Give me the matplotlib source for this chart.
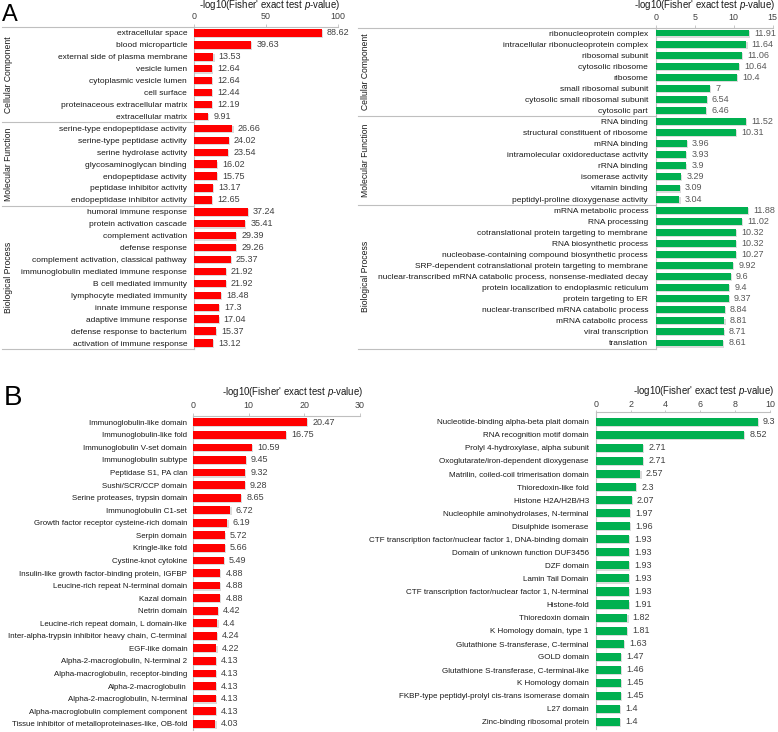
import matplotlib
matplotlib.use("Agg")
import matplotlib.pyplot as plt
import matplotlib.patheffects as pe
from matplotlib.transforms import blended_transform_factory

plt.rcParams['font.family'] = ['Liberation Sans', 'DejaVu Sans']
plt.rcParams['mathtext.fontset'] = 'custom'
plt.rcParams['mathtext.rm'] = 'Liberation Sans'
plt.rcParams['mathtext.it'] = 'Liberation Sans:italic'

# ---- data ----
# Panel A, left (red)
a_left_groups = ['Cellular Component', 'Molecular Function', 'Biological Process']
a_left_sizes = [8, 7, 12]
a_left_terms = [
    'extracellular space', 'blood microparticle', 'external side of plasma membrane',
    'vesicle lumen', 'cytoplasmic vesicle lumen', 'cell surface',
    'proteinaceous extracellular matrix', 'extracellular matrix',
    'serine-type endopeptidase activity', 'serine-type peptidase activity',
    'serine hydrolase activity', 'glycosaminoglycan binding', 'endopeptidase activity',
    'peptidase inhibitor activity', 'endopeptidase inhibitor activity',
    'humoral immune response', 'protein activation cascade', 'complement activation',
    'defense response', 'complement activation, classical pathway',
    'immunoglobulin mediated immune response', 'B cell mediated immunity',
    'lymphocyte mediated immunity', 'innate immune response', 'adaptive immune response',
    'defense response to bacterium', 'activation of immune response',
]
a_left_values = [88.62, 39.63, 13.53, 12.64, 12.64, 12.44, 12.19, 9.91,
                 26.66, 24.02, 23.54, 16.02, 15.75, 13.17, 12.65,
                 37.24, 35.41, 29.39, 29.26, 25.37, 21.92, 21.92, 18.48, 17.3, 17.04, 15.37, 13.12]

# Panel A, right (green)
a_right_groups = ['Cellular Component', 'Molecular Function', 'Biological Process']
a_right_sizes = [8, 8, 13]
a_right_terms = [
    'ribonucleoprotein complex', 'intracellular ribonucleoprotein complex', 'ribosomal subunit',
    'cytosolic ribosome', 'ribosome', 'small ribosomal subunit',
    'cytosolic small ribosomal subunit', 'cytosolic part',
    'RNA binding', 'structural constituent of ribosome', 'mRNA binding',
    'intramolecular oxidoreductase activity', 'rRNA binding', 'isomerase activity',
    'vitamin binding', 'peptidyl-proline dioxygenase activity',
    'mRNA metabolic process', 'RNA processing', 'cotranslational protein targeting to membrane',
    'RNA biosynthetic process', 'nucleobase-containing compound biosynthetic process',
    'SRP-dependent cotranslational protein targeting to membrane',
    'nuclear-transcribed mRNA catabolic process, nonsense-mediated decay',
    'protein localization to endoplasmic reticulum', 'protein targeting to ER',
    'nuclear-transcribed mRNA catabolic process', 'mRNA catabolic process',
    'viral transcription', 'translation',
]
a_right_values = [11.91, 11.64, 11.06, 10.64, 10.4, 7, 6.54, 6.46,
                  11.52, 10.31, 3.96, 3.93, 3.9, 3.29, 3.09, 3.04,
                  11.88, 11.02, 10.32, 10.32, 10.27, 9.92, 9.6, 9.4, 9.37, 8.84, 8.81, 8.71, 8.61]

# Panel B, left (red)
b_left_terms = [
    'Immunoglobulin-like domain', 'Immunoglobulin-like fold', 'Immunoglobulin V-set domain',
    'Immunoglobulin subtype', 'Peptidase S1, PA clan', 'Sushi/SCR/CCP domain',
    'Serine proteases, trypsin domain', 'Immunoglobulin C1-set',
    'Growth factor receptor cysteine-rich domain', 'Serpin domain', 'Kringle-like fold',
    'Cystine-knot cytokine', 'Insulin-like growth factor-binding protein, IGFBP',
    'Leucine-rich repeat N-terminal domain', 'Kazal domain', 'Netrin domain',
    'Leucine-rich repeat domain, L domain-like',
    'Inter-alpha-trypsin inhibitor heavy chain, C-terminal', 'EGF-like domain',
    'Alpha-2-macroglobulin, N-terminal 2', 'Alpha-macroglobulin, receptor-binding',
    'Alpha-2-macroglobulin', 'Alpha-2-macroglobulin, N-terminal',
    'Alpha-macroglobulin complement component',
    'Tissue inhibitor of metalloproteinases-like, OB-fold',
]
b_left_values = [20.47, 16.75, 10.59, 9.45, 9.32, 9.28, 8.65, 6.72, 6.19, 5.72, 5.66, 5.49,
                 4.88, 4.88, 4.88, 4.42, 4.4, 4.24, 4.22, 4.13, 4.13, 4.13, 4.13, 4.13, 4.03]

# Panel B, right (green)
b_right_terms = [
    'Nucleotide-binding alpha-beta plait domain', 'RNA recognition motif domain',
    'Prolyl 4-hydroxylase, alpha subunit', 'Oxoglutarate/iron-dependent dioxygenase',
    'Matrilin, coiled-coil trimerisation domain', 'Thioredoxin-like fold',
    'Histone H2A/H2B/H3', 'Nucleophile aminohydrolases, N-terminal', 'Disulphide isomerase',
    'CTF transcription factor/nuclear factor 1, DNA-binding domain',
    'Domain of unknown function DUF3456', 'DZF domain', 'Lamin Tail Domain',
    'CTF transcription factor/nuclear factor 1, N-terminal', 'Histone-fold',
    'Thioredoxin domain', 'K Homology domain, type 1', 'Glutathione S-transferase, C-terminal',
    'GOLD domain', 'Glutathione S-transferase, C-terminal-like', 'K Homology domain',
    'FKBP-type peptidyl-prolyl cis-trans isomerase domain', 'L27 domain',
    'Zinc-binding ribosomal protein',
]
b_right_values = [9.3, 8.52, 2.71, 2.71, 2.57, 2.3, 2.07, 1.97, 1.96, 1.93, 1.93, 1.93, 1.93,
                  1.93, 1.91, 1.82, 1.81, 1.63, 1.47, 1.46, 1.45, 1.45, 1.4, 1.4]

RED = '#FF0000'
GREEN = '#00B050'
GRID = '#BFBFBF'
TITLE = r"-log10(Fisher' exact test $\it{p}$-value)"

W, H = 778, 732
fig = plt.figure(figsize=(W / 100, H / 100), dpi=100)


def px_axes(x0, y0, x1, y1):
    return fig.add_axes([x0 / W, 1 - y1 / H, (x1 - x0) / W, (y1 - y0) / H])


def draw_panel(box, terms, values, color, xmax, ticks, title_xy, val_color='#404040',
               label_size=6.0, label_pad=5.0, top_pad=0.5, tick_len=2.5, tick_pad=1.5,
               groups=None, sizes=None, line_left=None, group_x=None):
    x0, y0, x1, y1 = box
    ax = px_axes(x0, y0, x1, y1)
    n = len(terms)
    shadow = [pe.SimplePatchShadow(offset=(0.8, -0.8), shadow_rgbFace='#999999', alpha=0.35),
              pe.Normal()]
    bars = ax.barh(range(n), values, height=0.62, color=color, zorder=3)
    for b in bars:
        b.set_path_effects(shadow)
    ax.set_ylim(n - 0.5, -top_pad)
    ax.set_xlim(0, xmax)
    ax.set_yticks(range(n))
    ax.set_yticklabels(terms, fontsize=label_size, color='#1a1a1a')
    ax.tick_params(axis='y', length=0, pad=label_pad)
    ax.xaxis.tick_top()
    ax.set_xticks(ticks)
    ax.set_xticklabels([f'{t:g}' for t in ticks], fontsize=6.4, color='#404040')
    ax.tick_params(axis='x', length=tick_len, width=0.6, color=GRID, pad=tick_pad)
    for s in ['right', 'bottom']:
        ax.spines[s].set_visible(False)
    for s in ['top', 'left']:
        ax.spines[s].set_color(GRID)
        ax.spines[s].set_linewidth(0.8)
    for i, v in enumerate(values):
        ax.annotate(f'{v:g}', (v, i), xytext=(3.8, 0), textcoords='offset points',
                    va='center', ha='left', fontsize=6.5, color=val_color)
    fig.text(title_xy[0] / W, 1 - title_xy[1] / H, TITLE, ha='center', va='center',
             fontsize=6.9, color='#1a1a1a')

    if groups is not None:
        width_px = x1 - x0
        xl = (line_left - x0) / width_px
        tr = blended_transform_factory(ax.transAxes, ax.transData)
        bounds = [-top_pad]
        start = 0
        for g, size in zip(groups, sizes):
            start += size
            bounds.append(start - 0.5)
        for yb in bounds:
            ax.plot([xl, 0], [yb, yb], transform=tr, color=GRID, lw=0.8, clip_on=False)
        start = 0
        gx = (group_x - x0) / width_px
        for g, size in zip(groups, sizes):
            mid = start + (size - 1) / 2
            ax.text(gx, mid, g, transform=tr, rotation=90, ha='center', va='center',
                    fontsize=6.2, color='#1a1a1a')
            start += size
    return ax


draw_panel((194, 27, 338, 349), a_left_terms, a_left_values, RED, 100, [0, 50, 100],
           (270, 5.5), groups=a_left_groups, sizes=a_left_sizes, line_left=2, group_x=8)
draw_panel((655.7, 27.5, 772.7, 348.5), a_right_terms, a_right_values, GREEN, 15,
           [0, 5, 10, 15], (705, 5.5), val_color='#595959', label_pad=5.5,
           groups=a_right_groups, sizes=a_right_sizes, line_left=358, group_x=365)
draw_panel((193, 416, 360, 730), b_left_terms, b_left_values, RED, 30, [0, 10, 20, 30],
           (293, 392), label_size=5.65, label_pad=4.2)
draw_panel((595.7, 412, 770, 728.5), b_right_terms, b_right_values, GREEN, 10,
           [0, 2, 4, 6, 8, 10], (704, 391), label_size=5.8, label_pad=5.0, top_pad=0.75,
           tick_len=1.5, tick_pad=1.0)

fig.text(2 / W, 1 - 21 / H, 'A', fontsize=17, ha='left', va='baseline')
fig.text(4 / W, 1 - 405 / H, 'B', fontsize=20, ha='left', va='baseline')

fig.savefig('out.png', dpi=100)
